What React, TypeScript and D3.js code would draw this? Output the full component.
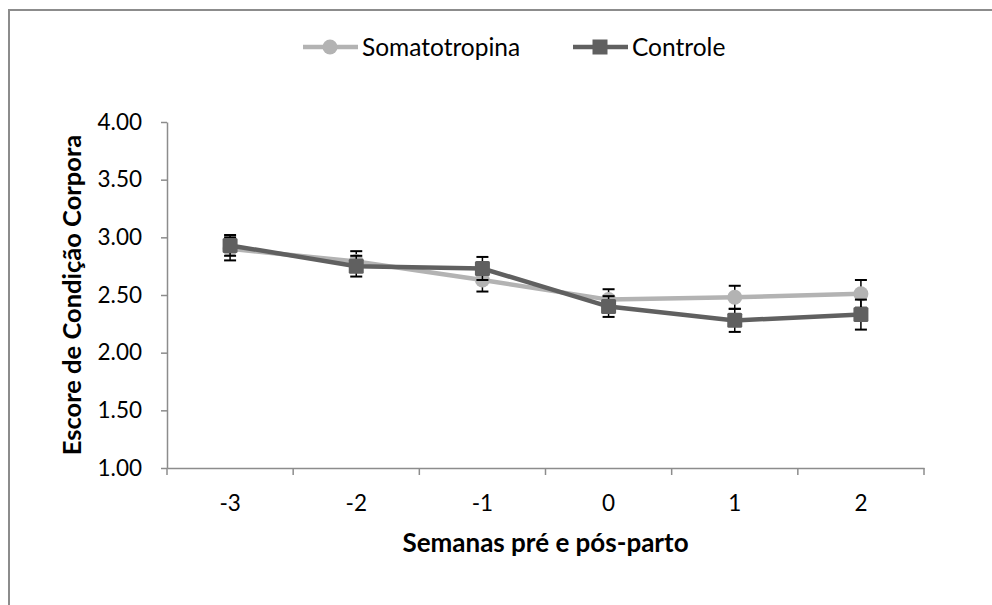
import React, { useEffect, useRef } from "react";
import * as d3 from "d3";

const weeks = ["-3", "-2", "-1", "0", "1", "2"];
const somatotropina = [2.9, 2.79, 2.63, 2.46, 2.48, 2.51];
const somatotropinaErr = [0.1, 0.09, 0.1, 0.09, 0.1, 0.12];
const controle = [2.93, 2.75, 2.73, 2.4, 2.28, 2.33];
const controleErr = [0.09, 0.09, 0.1, 0.09, 0.1, 0.13];
const yTicks = [1, 1.5, 2, 2.5, 3, 3.5, 4];

const font = "Lato, 'Open Sans', sans-serif";

const App = () => {
  const ref = useRef<SVGSVGElement>(null);

  useEffect(() => {
    const svg = d3.select(ref.current);
    svg.selectAll("*").remove();

    const width = 992;
    const height = 605;
    const margin = { top: 122, right: 68, bottom: 137, left: 167 };

    svg.attr("width", width).attr("height", height);

    // chart frame
    svg
      .append("path")
      .attr("d", `M9,${height} V10 H${width}`)
      .attr("fill", "none")
      .attr("stroke", "#8c8c8c")
      .attr("stroke-width", 2);

    const x = d3
      .scaleBand()
      .domain(weeks)
      .range([margin.left, width - margin.right]);

    const y = d3
      .scaleLinear()
      .domain([1, 4])
      .range([height - margin.bottom, margin.top]);

    // Y axis
    const yAxis = svg
      .append("g")
      .attr("transform", `translate(${margin.left},0)`)
      .call(
        d3
          .axisLeft(y)
          .tickValues(yTicks)
          .tickFormat(d3.format(".2f"))
          .tickSize(6)
          .tickSizeOuter(0)
      );
    yAxis.selectAll("line, path").attr("stroke", "#8c8c8c").attr("stroke-width", 1.5);
    yAxis
      .selectAll("text")
      .attr("font-family", font)
      .attr("font-size", 22.5)
      .attr("fill", "#000")
      .attr("x", -25);

    // X axis
    const xAxis = svg
      .append("g")
      .attr("transform", `translate(0,${height - margin.bottom})`)
      .call(d3.axisBottom(x).tickSize(0).tickSizeOuter(0));
    xAxis.select("path").attr("stroke", "#8c8c8c").attr("stroke-width", 1.5);
    xAxis
      .selectAll("text")
      .attr("font-family", font)
      .attr("font-size", 22.5)
      .attr("fill", "#000")
      .attr("y", 27);
    const bounds = weeks.map((w) => x(w)!).concat([width - margin.right]);
    xAxis
      .selectAll("line.sep")
      .data(bounds)
      .enter()
      .append("line")
      .attr("class", "sep")
      .attr("x1", (d) => d)
      .attr("x2", (d) => d)
      .attr("y1", 0)
      .attr("y2", 7)
      .attr("stroke", "#8c8c8c")
      .attr("stroke-width", 1.5);

    // axis titles
    svg
      .append("text")
      .attr("x", (margin.left + width - margin.right) / 2)
      .attr("y", 552)
      .attr("text-anchor", "middle")
      .attr("font-family", font)
      .attr("font-weight", "bold")
      .attr("font-size", 26)
      .text("Semanas pré e pós-parto");

    svg
      .append("text")
      .attr("transform", `translate(81,${(y(1) + y(4)) / 2}) rotate(-90)`)
      .attr("text-anchor", "middle")
      .attr("font-family", font)
      .attr("font-weight", "bold")
      .attr("font-size", 25.5)
      .text("Escore de Condição Corpora");

    const cx = (i: number) => x(weeks[i])! + x.bandwidth() / 2;
    const line = d3
      .line<number>()
      .x((_, i) => cx(i))
      .y((d) => y(d));

    const series = [
      { name: "Somatotropina", values: somatotropina, err: somatotropinaErr, color: "#b3b3b3", shape: "circle" },
      { name: "Controle", values: controle, err: controleErr, color: "#606060", shape: "square" },
    ];

    series.forEach((s) => {
      const g = svg.append("g");
      g.append("path")
        .attr("d", line(s.values))
        .attr("fill", "none")
        .attr("stroke", s.color)
        .attr("stroke-width", 4.5);

      // error bars
      s.values.forEach((v, i) => {
        const top = y(v + s.err[i]);
        const bot = y(v - s.err[i]);
        g.append("line")
          .attr("x1", cx(i))
          .attr("x2", cx(i))
          .attr("y1", top)
          .attr("y2", bot)
          .attr("stroke", "#000")
          .attr("stroke-width", 1.5);
        [top, bot].forEach((yy) =>
          g
            .append("line")
            .attr("x1", cx(i) - 6)
            .attr("x2", cx(i) + 6)
            .attr("y1", yy)
            .attr("y2", yy)
            .attr("stroke", "#000")
            .attr("stroke-width", 2)
        );
      });

      s.values.forEach((v, i) => {
        if (s.shape === "circle") {
          g.append("circle")
            .attr("cx", cx(i))
            .attr("cy", y(v))
            .attr("r", 7.5)
            .attr("fill", s.color);
        } else {
          g.append("rect")
            .attr("x", cx(i) - 7.5)
            .attr("y", y(v) - 7.5)
            .attr("width", 15)
            .attr("height", 15)
            .attr("rx", 1.5)
            .attr("fill", s.color);
        }
      });
    });

    // legend
    const legendX = [303, 573];
    series.forEach((s, i) => {
      const g = svg.append("g").attr("transform", `translate(${legendX[i]},47)`);
      g.append("line")
        .attr("x1", 0)
        .attr("x2", 55)
        .attr("stroke", s.color)
        .attr("stroke-width", 4.5);
      if (s.shape === "circle") {
        g.append("circle").attr("cx", 27).attr("r", 7.5).attr("fill", s.color);
      } else {
        g.append("rect")
          .attr("x", 19.5)
          .attr("y", -7.5)
          .attr("width", 15)
          .attr("height", 15)
          .attr("fill", s.color);
      }
      g.append("text")
        .attr("x", 59)
        .attr("dy", "0.35em")
        .attr("font-family", font)
        .attr("font-size", 24.5)
        .text(s.name);
    });
  }, []);

  return <svg ref={ref} style={{ position: "absolute", left: 0, top: 0 }}></svg>;
};

export default App;
